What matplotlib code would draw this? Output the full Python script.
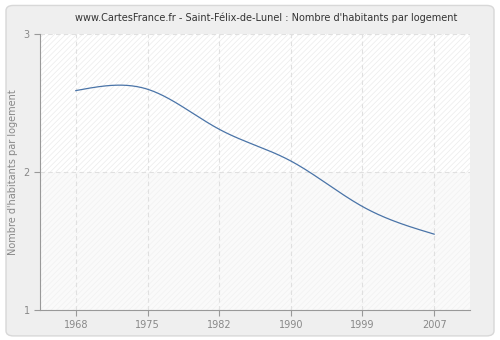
import numpy as np
import matplotlib.pyplot as plt
from matplotlib.patches import FancyBboxPatch

years = ['1968', '1975', '1982', '1990', '1999', '2007']
values = [2.59, 2.60, 2.31, 2.08, 1.75, 1.55]


def natural_spline(x, y, n=300):
    # natural cubic spline, just to draw the smooth line
    x = np.asarray(x, float)
    y = np.asarray(y, float)
    k = len(x)
    h = np.diff(x)
    A = np.zeros((k, k))
    b = np.zeros(k)
    A[0, 0] = A[-1, -1] = 1
    for i in range(1, k - 1):
        A[i, i - 1] = h[i - 1]
        A[i, i] = 2 * (h[i - 1] + h[i])
        A[i, i + 1] = h[i]
        b[i] = 6 * ((y[i + 1] - y[i]) / h[i] - (y[i] - y[i - 1]) / h[i - 1])
    m = np.linalg.solve(A, b)
    xs = np.linspace(x[0], x[-1], n)
    ys = np.empty_like(xs)
    for j, t in enumerate(xs):
        i = min(np.searchsorted(x, t, side='right') - 1, k - 2)
        a = (x[i + 1] - t) / h[i]
        c = (t - x[i]) / h[i]
        ys[j] = (a * y[i] + c * y[i + 1]
                 + ((a ** 3 - a) * m[i] + (c ** 3 - c) * m[i + 1]) * h[i] ** 2 / 6)
    return xs, ys


fig = plt.figure(figsize=(5, 3.4), dpi=100)
fig.patch.set_facecolor('white')
fig.patches.append(FancyBboxPatch((0.012, 0.012), 0.976, 0.972,
                                  boxstyle='round,pad=0,rounding_size=0.015',
                                  transform=fig.transFigure, facecolor='#efefef',
                                  edgecolor='#d8d8d8', linewidth=1, zorder=-10))

ax = fig.add_axes([0.08, 0.088, 0.86, 0.812])
ax.set_facecolor('#fbfbfb')
plt.rcParams['hatch.linewidth'] = 0.5
ax.axhspan(2, 3, facecolor='#ffffff', edgecolor='#ebebeb', hatch='//////', linewidth=0, zorder=0)
ax.axhspan(1, 2, facecolor='#fafafa', edgecolor='#f1f1f1', hatch='//////', linewidth=0, zorder=0)

pos = np.arange(len(years))
xs, ys = natural_spline(pos, values)
ax.plot(xs, ys, color='#4a74a8', linewidth=0.9, zorder=3)

ax.set_xlim(-0.5, len(years) - 0.5)
ax.set_ylim(1, 3)
ax.set_xticks(pos)
ax.set_xticklabels(years)
ax.set_yticks([1, 2, 3])
ax.grid(True, color='#e0e0e0', linestyle=(0, (4, 3)), linewidth=0.8)
ax.set_axisbelow(True)

for s in ['top', 'right']:
    ax.spines[s].set_visible(False)
for s in ['left', 'bottom']:
    ax.spines[s].set_color('#999999')
ax.tick_params(colors='#999999', labelcolor='#888888', labelsize=7, length=4, width=0.8)
ax.set_ylabel("Nombre d'habitants par logement", fontsize=7, color='#888888')
fig.text(0.532, 0.948, "www.CartesFrance.fr - Saint-Félix-de-Lunel : Nombre d'habitants par logement",
         fontsize=7, color='#333333', ha='center', va='center')

fig.savefig('out.png', dpi=100, facecolor=fig.get_facecolor())
